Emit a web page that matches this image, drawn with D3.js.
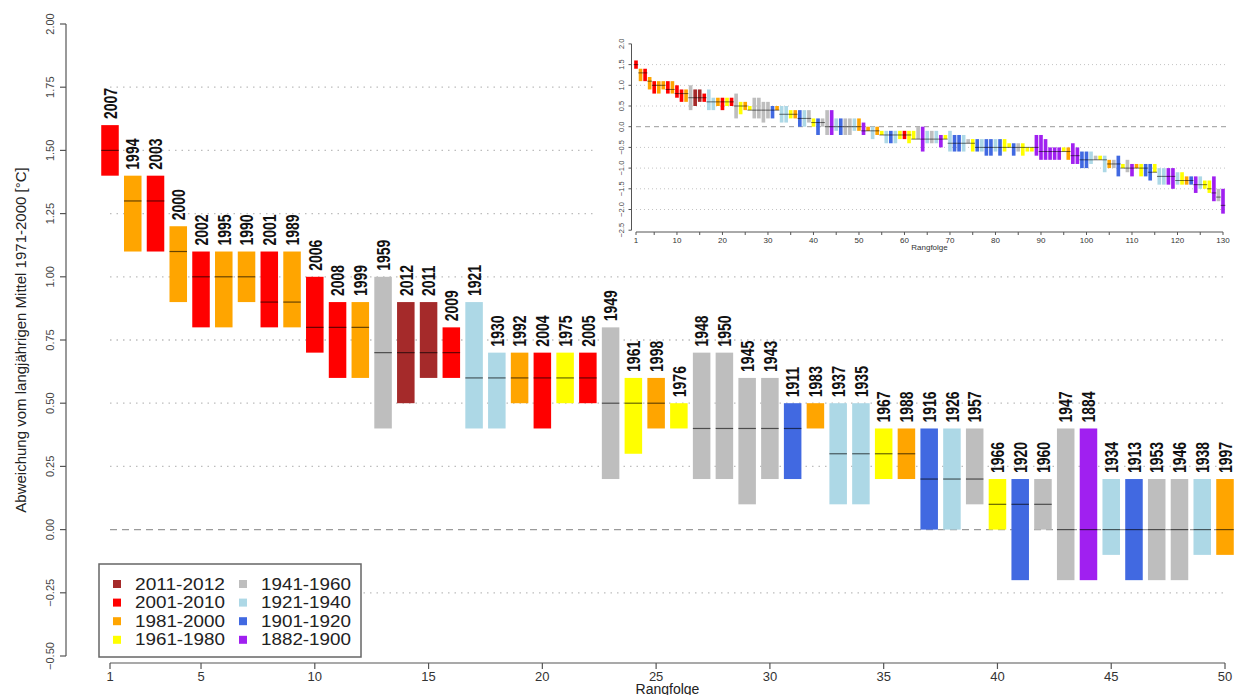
<!DOCTYPE html>
<html>
<head>
<meta charset="utf-8">
<script src="https://cdn.jsdelivr.net/npm/d3@7"></script>
<style>
  body { margin: 0; background: #fff; }
  svg { display: block; font-family: "Liberation Sans", Arial, sans-serif; }
</style>
</head>
<body>
<div id="chart"></div>
<script>
// Rang 1-50 (Hauptgrafik)
const years = [2007,1994,2003,2000,2002,1995,1990,2001,1989,2006,2008,1999,1959,2012,2011,2009,1921,1930,1992,2004,
               1975,2005,1949,1961,1998,1976,1948,1950,1945,1943,1911,1983,1937,1935,1967,1988,1916,1926,1957,1966,
               1920,1960,1947,1884,1934,1913,1953,1946,1938,1997];
const hi  = [1.6,1.4,1.4,1.2,1.1,1.1,1.1,1.1,1.1,1.0, 0.9,0.9,1.0,0.9,0.9,0.8,0.9,0.7,0.7,0.7,
             0.7,0.7,0.8,0.6,0.6,0.5,0.7,0.7,0.6,0.6, 0.5,0.5,0.5,0.5,0.4,0.4,0.4,0.4,0.4,0.2,
             0.2,0.2,0.4,0.4,0.2,0.2,0.2,0.2,0.2,0.2];
const lo  = [1.4,1.1,1.1,0.9,0.8,0.8,0.9,0.8,0.8,0.7, 0.6,0.6,0.4,0.5,0.6,0.6,0.4,0.4,0.5,0.4,
             0.5,0.5,0.2,0.3,0.4,0.4,0.2,0.2,0.1,0.2, 0.2,0.4,0.1,0.1,0.2,0.2,0.0,0.0,0.1,0.0,
             -0.2,0.0,-0.2,-0.2,-0.1,-0.2,-0.2,-0.2,-0.1,-0.1];
const med = [1.5,1.3,1.3,1.1,1.0,1.0,1.0,0.9,0.9,0.8, 0.8,0.8,0.7,0.7,0.7,0.7,0.6,0.6,0.6,0.6,
             0.6,0.6,0.5,0.5,0.5,0.4,0.4,0.4,0.4,0.4, 0.4,0.4,0.3,0.3,0.3,0.3,0.2,0.2,0.2,0.1,
             0.1,0.1,0.0,0.0,0.0,0.0,0.0,0.0,0.0,0.0];

// Rang 51-130 (nur Einsatzgrafik), Gruppe als Index in groups
const insetGrp = [7,2,5,2,3,5,6,5,3,1, 3,3,4,7,5,4,5,7,3,5, 6,6,5,4,3,6,5,6,6,5,
                  6,3,3,6,4,3,3,3,7,7, 7,7,7,7,3,2,7,7,6,6, 5,4,3,5,2,4,6,3,4,7,
                  2,3,6,6,3,5,5,7,7,5, 3,2,6,7,5,3,3,7,4,7];
const insetHi  = [0.1,0.0,0.0,0.0,-0.1,-0.1,-0.1,-0.1,-0.1,-0.1, -0.1,-0.1,0.0,0.0,-0.1,-0.1,-0.1,-0.2,-0.2,-0.1,
                  -0.2,-0.2,-0.2,-0.3,-0.3,-0.3,-0.3,-0.3,-0.3,-0.3, -0.3,-0.3,-0.4,-0.4,-0.4,-0.4,-0.5,-0.5,-0.2,-0.2,
                  -0.3,-0.5,-0.5,-0.5,-0.5,-0.5,-0.4,-0.5,-0.6,-0.6, -0.6,-0.7,-0.7,-0.7,-0.8,-0.8,-0.7,-0.9,-0.8,-0.9,
                  -0.9,-0.9,-0.9,-0.9,-0.9,-1.0,-1.0,-1.0,-1.0,-1.1, -1.1,-1.2,-1.2,-1.2,-1.2,-1.3,-1.3,-1.2,-1.5,-1.5];
const insetLo  = [-0.2,-0.1,-0.3,-0.2,-0.2,-0.4,-0.4,-0.4,-0.3,-0.3, -0.4,-0.3,-0.3,-0.6,-0.4,-0.4,-0.4,-0.5,-0.3,-0.6,
                  -0.6,-0.6,-0.6,-0.4,-0.6,-0.6,-0.6,-0.7,-0.7,-0.6, -0.7,-0.6,-0.5,-0.7,-0.6,-0.7,-0.6,-0.6,-0.7,-0.8,
                  -0.8,-0.8,-0.8,-0.8,-0.6,-0.8,-0.9,-0.9,-1.0,-1.0, -0.9,-0.8,-0.8,-1.1,-1.0,-1.0,-1.2,-1.0,-1.1,-1.2,
                  -1.0,-1.2,-1.2,-1.3,-1.1,-1.4,-1.4,-1.4,-1.5,-1.4, -1.4,-1.4,-1.4,-1.6,-1.5,-1.5,-1.6,-1.8,-1.8,-2.1];
const insetMed = [-0.1,-0.1,-0.1,-0.1,-0.2,-0.2,-0.2,-0.2,-0.2,-0.2, -0.2,-0.3,-0.3,-0.3,-0.3,-0.3,-0.3,-0.3,-0.3,-0.4,
                  -0.4,-0.4,-0.4,-0.4,-0.4,-0.5,-0.5,-0.5,-0.5,-0.5, -0.5,-0.5,-0.5,-0.5,-0.5,-0.5,-0.5,-0.5,-0.5,-0.6,
                  -0.6,-0.6,-0.6,-0.6,-0.6,-0.6,-0.7,-0.7,-0.8,-0.8, -0.8,-0.8,-0.8,-0.8,-0.9,-0.9,-0.9,-1.0,-1.0,-1.0,
                  -1.0,-1.0,-1.0,-1.1,-1.1,-1.2,-1.2,-1.2,-1.2,-1.3, -1.3,-1.3,-1.3,-1.4,-1.4,-1.4,-1.5,-1.6,-1.7,-1.9];

const groups = ["2011-2012","2001-2010","1981-2000","1961-1980","1941-1960","1921-1940","1901-1920","1882-1900"];
const groupColors = ["#A52A2A","#FF0000","#FFA500","#FFFF00","#BEBEBE","#ADD8E6","#4169E1","#A020F0"];

const yTicks = [-0.5,-0.25,0,0.25,0.5,0.75,1,1.25,1.5,1.75,2];
const gridVals = [-0.25,0.25,0.5,0.75,1,1.25,1.5,1.75];
const xTicks = [1,5,10,15,20,25,30,35,40,45,50];
const insetYTicks = [-2.5,-2,-1.5,-1,-0.5,0,0.5,1,1.5,2];
const insetGrid = [-2,-1.5,-1,-0.5,0.5,1,1.5];
const insetXTicks = d3.range(0,131,5).map(d => d === 0 ? 1 : d);
const insetXLabels = [1,10,20,30,40,50,60,70,80,90,100,110,120,130];

function groupOfYear(yr) {
  if (yr >= 2011) return 0;
  if (yr >= 2001) return 1;
  if (yr >= 1981) return 2;
  if (yr >= 1961) return 3;
  if (yr >= 1941) return 4;
  if (yr >= 1921) return 5;
  if (yr >= 1901) return 6;
  return 7;
}

const data = years.map((yr, i) => ({rank: i + 1, year: yr, hi: hi[i], lo: lo[i], med: med[i], grp: groupOfYear(yr)}));
const insetData = data.concat(insetGrp.map((g, i) => ({rank: 51 + i, hi: insetHi[i], lo: insetLo[i], med: insetMed[i], grp: g})));

const width = 1234, height = 695;
const svg = d3.select("#chart").append("svg")
  .attr("width", width).attr("height", height);

const x = d3.scaleLinear().domain([1, 50]).range([110, 1225]);
const y = d3.scaleLinear().domain([-0.5, 2]).range([656, 24]);
const barW = (x(2) - x(1)) * 0.77;

// Gitterlinien
svg.append("g").selectAll("line")
  .data(gridVals)
  .enter().append("line")
  .attr("x1", x(1)).attr("x2", 1228)
  .attr("y1", d => y(d)).attr("y2", d => y(d))
  .style("stroke", "#bdbdbd").style("stroke-width", 1.3)
  .style("stroke-dasharray", "1.5,5");
svg.append("line")
  .attr("x1", x(1)).attr("x2", 1228)
  .attr("y1", y(0)).attr("y2", y(0))
  .style("stroke", "#9a9a9a").style("stroke-width", 1.3)
  .style("stroke-dasharray", "7,5");

// Balken
svg.append("g").selectAll("rect")
  .data(data)
  .enter().append("rect")
  .attr("x", d => x(d.rank) - barW / 2)
  .attr("y", d => y(d.hi))
  .attr("width", barW)
  .attr("height", d => y(d.lo) - y(d.hi))
  .style("fill", d => groupColors[d.grp]);

// Median
svg.append("g").selectAll("line")
  .data(data.filter(d => d.med > d.lo && d.med < d.hi))
  .enter().append("line")
  .attr("x1", d => x(d.rank) - barW / 2).attr("x2", d => x(d.rank) + barW / 2)
  .attr("y1", d => y(d.med)).attr("y2", d => y(d.med))
  .style("stroke", "#000").style("stroke-opacity", 0.6).style("stroke-width", 1.2);

// Jahreszahlen
svg.append("g").selectAll("text")
  .data(data)
  .enter().append("text")
  .attr("transform", d => "translate(" + x(d.rank) + "," + (y(d.hi) - 6) + ") rotate(-90) scale(1,1.3)")
  .attr("dominant-baseline", "central")
  .style("font-size", "14px").style("font-weight", "bold")
  .style("fill", "#111")
  .text(d => d.year);

// Achsen
const yAxis = svg.append("g").attr("transform", "translate(66,0)");
yAxis.append("line").attr("x1", 0).attr("x2", 0).attr("y1", y(2)).attr("y2", y(-0.5))
  .style("stroke", "#555").style("stroke-width", 1.2);
yAxis.selectAll(".tk").data(yTicks).enter().append("line")
  .attr("x1", 0).attr("x2", -6).attr("y1", d => y(d)).attr("y2", d => y(d))
  .style("stroke", "#555").style("stroke-width", 1.2);
yAxis.selectAll(".lb").data(yTicks).enter().append("text")
  .attr("transform", d => "translate(-16," + y(d) + ") rotate(-90)")
  .attr("text-anchor", "middle").attr("dominant-baseline", "central")
  .style("font-size", "11px").style("fill", "#444")
  .text(d => d3.format(".2f")(d));

svg.append("text")
  .attr("transform", "translate(20,340) rotate(-90)")
  .attr("text-anchor", "middle").attr("dominant-baseline", "central")
  .style("font-size", "15px").style("fill", "#222")
  .text("Abweichung vom langjährigen Mittel 1971-2000 [°C]");

const xAxis = svg.append("g").attr("transform", "translate(0,663)");
xAxis.append("line").attr("x1", x(1)).attr("x2", x(50)).attr("y1", 0).attr("y2", 0)
  .style("stroke", "#555").style("stroke-width", 1.2);
xAxis.selectAll(".tk").data(xTicks).enter().append("line")
  .attr("x1", d => x(d)).attr("x2", d => x(d)).attr("y1", 0).attr("y2", 6)
  .style("stroke", "#555").style("stroke-width", 1.2);
xAxis.selectAll(".lb").data(xTicks).enter().append("text")
  .attr("x", d => x(d)).attr("y", 18)
  .attr("text-anchor", "middle")
  .style("font-size", "13px").style("fill", "#333")
  .text(d => d);
svg.append("text")
  .attr("x", (x(1) + x(50)) / 2).attr("y", 694)
  .attr("text-anchor", "middle")
  .style("font-size", "14px").style("fill", "#222")
  .text("Rangfolge");

// Legende
const legend = svg.append("g");
legend.append("rect")
  .attr("x", 99).attr("y", 564).attr("width", 262).attr("height", 93)
  .style("fill", "#fff").style("stroke", "#666").style("stroke-width", 1.5);
const legItems = legend.selectAll(".item").data(groups).enter().append("g")
  .attr("transform", (d, i) => "translate(" + (i < 4 ? 117 : 243) + "," + (584 + (i % 4) * 18.6) + ")");
legItems.append("rect")
  .attr("x", -4).attr("y", -4).attr("width", 8).attr("height", 8)
  .style("fill", (d, i) => groupColors[i]);
legItems.append("text")
  .attr("x", 18).attr("y", 0)
  .attr("dominant-baseline", "central")
  .attr("textLength", 90).attr("lengthAdjust", "spacingAndGlyphs")
  .style("font-size", "17px").style("fill", "#222")
  .text(d => d);

// Einsatzgrafik
const inset = svg.append("g");
inset.append("rect")
  .attr("x", 597).attr("y", 30).attr("width", 637).attr("height", 222)
  .style("fill", "#fff");

const xi = d3.scaleLinear().domain([1, 130]).range([636, 1223]);
const yi = d3.scaleLinear().domain([-2.5, 2]).range([230.2, 43.9]);
const barWi = (xi(2) - xi(1)) * 0.8;

inset.append("g").selectAll("line")
  .data(insetGrid)
  .enter().append("line")
  .attr("x1", xi(1)).attr("x2", 1227)
  .attr("y1", d => yi(d)).attr("y2", d => yi(d))
  .style("stroke", "#c4c4c4").style("stroke-width", 1)
  .style("stroke-dasharray", "1,3");
inset.append("line")
  .attr("x1", xi(1)).attr("x2", 1227)
  .attr("y1", yi(0)).attr("y2", yi(0))
  .style("stroke", "#9a9a9a").style("stroke-width", 1)
  .style("stroke-dasharray", "5,4");

inset.append("g").selectAll("rect")
  .data(insetData)
  .enter().append("rect")
  .attr("x", d => xi(d.rank) - barWi / 2)
  .attr("y", d => yi(d.hi))
  .attr("width", barWi)
  .attr("height", d => yi(d.lo) - yi(d.hi))
  .style("fill", d => groupColors[d.grp]);
inset.append("g").selectAll("line")
  .data(insetData)
  .enter().append("line")
  .attr("x1", d => xi(d.rank) - barWi / 2 - 0.5).attr("x2", d => xi(d.rank) + barWi / 2 + 0.5)
  .attr("y1", d => yi(d.med)).attr("y2", d => yi(d.med))
  .style("stroke", "#000").style("stroke-opacity", 0.55).style("stroke-width", 1);

const yAxisI = inset.append("g").attr("transform", "translate(631.5,0)");
yAxisI.append("line").attr("x1", 0).attr("x2", 0).attr("y1", yi(2)).attr("y2", yi(-2.5))
  .style("stroke", "#555");
yAxisI.selectAll(".tk").data(insetYTicks).enter().append("line")
  .attr("x1", 0).attr("x2", -3).attr("y1", d => yi(d)).attr("y2", d => yi(d))
  .style("stroke", "#555");
yAxisI.selectAll(".lb").data(insetYTicks).enter().append("text")
  .attr("transform", d => "translate(-10," + yi(d) + ") rotate(-90)")
  .attr("text-anchor", "middle").attr("dominant-baseline", "central")
  .style("font-size", "7.5px").style("fill", "#444")
  .text(d => d3.format(".1f")(d));

const xAxisI = inset.append("g").attr("transform", "translate(0,232)");
xAxisI.append("line").attr("x1", xi(1)).attr("x2", xi(130)).attr("y1", 0).attr("y2", 0)
  .style("stroke", "#555");
xAxisI.selectAll(".tk").data(insetXTicks).enter().append("line")
  .attr("x1", d => xi(d)).attr("x2", d => xi(d)).attr("y1", 0).attr("y2", 3)
  .style("stroke", "#555");
xAxisI.selectAll(".lb").data(insetXLabels).enter().append("text")
  .attr("x", d => xi(d)).attr("y", 11)
  .attr("text-anchor", "middle")
  .style("font-size", "8px").style("fill", "#333")
  .text(d => d);
inset.append("text")
  .attr("x", (xi(1) + xi(130)) / 2).attr("y", 250)
  .attr("text-anchor", "middle")
  .style("font-size", "8px").style("fill", "#333")
  .text("Rangfolge");
</script>
</body>
</html>
